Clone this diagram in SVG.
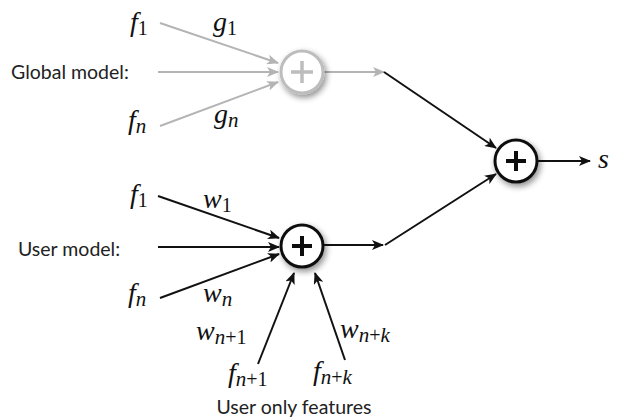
<svg xmlns="http://www.w3.org/2000/svg" width="620" height="418" viewBox="0 0 620 418">
<style>
.lbl{font-family:"Lato","Open Sans",sans-serif;font-size:19.5px;fill:#222}
.m{font-family:"Liberation Serif","DejaVu Serif",serif;font-style:italic;font-size:28px;fill:#111}
.sub{font-size:20px;font-style:normal}
.subi{font-size:21px}
.blk{stroke:#111;stroke-width:2;fill:none}
.gry{stroke:#b4b4b4;stroke-width:2;fill:none}
.circ{fill:#fff;stroke:#111;stroke-width:3}
.circg{fill:#fff;stroke:#bdbdbd;stroke-width:3}
</style>
<defs>
<marker id="ab" viewBox="0 0 12 10" refX="11" refY="5" markerWidth="12" markerHeight="10" markerUnits="userSpaceOnUse" orient="auto">
<path d="M0,0 L12,5 L0,10 L3,5 Z" fill="#111"/>
</marker>
<marker id="ag" viewBox="0 0 12 10" refX="11" refY="5" markerWidth="12" markerHeight="10" markerUnits="userSpaceOnUse" orient="auto">
<path d="M0,0 L12,5 L0,10 L3,5 Z" fill="#b4b4b4"/>
</marker>
<filter id="sh" x="-50%" y="-50%" width="200%" height="200%">
<feGaussianBlur in="SourceAlpha" stdDeviation="3"/>
<feOffset dx="2" dy="3"/>
<feComponentTransfer><feFuncA type="linear" slope="0.45"/></feComponentTransfer>
<feMerge><feMergeNode/><feMergeNode in="SourceGraphic"/></feMerge>
</filter>
</defs>
<rect width="620" height="418" fill="#fff"/>
<g id="connectors">
<line class="gry" x1="160" y1="23" x2="278" y2="63" marker-end="url(#ag)"/>
<line class="gry" x1="158" y1="72" x2="278" y2="72" marker-end="url(#ag)"/>
<line class="gry" x1="160" y1="126" x2="278" y2="82" marker-end="url(#ag)"/>
<line class="gry" x1="324" y1="72" x2="384" y2="72" marker-end="url(#ag)"/>
<polyline class="blk" points="384,72 496,148" marker-end="url(#ab)"/>
<line class="blk" x1="158" y1="196" x2="279" y2="238" marker-end="url(#ab)"/>
<line class="blk" x1="158" y1="247" x2="279" y2="247" marker-end="url(#ab)"/>
<line class="blk" x1="160" y1="298" x2="279" y2="254" marker-end="url(#ab)"/>
<line class="blk" x1="258" y1="364" x2="294" y2="273" marker-end="url(#ab)"/>
<line class="blk" x1="345" y1="360" x2="315" y2="273" marker-end="url(#ab)"/>
<line class="blk" x1="324" y1="245" x2="383" y2="245" marker-end="url(#ab)"/>
<polyline class="blk" points="385,245 496,174" marker-end="url(#ab)"/>
<line class="blk" x1="538" y1="161" x2="590" y2="161" marker-end="url(#ab)"/>
</g>
<g id="global-sum" filter="url(#sh)">
<circle class="circg" cx="302" cy="72" r="21"/>
<path d="M291,72 H313 M302,61 V83" stroke="#bdbdbd" stroke-width="3.5"/>
</g>
<g id="user-sum" filter="url(#sh)">
<circle class="circ" cx="302" cy="246" r="21"/>
<path d="M292,246 H312 M302,236 V256" stroke="#111" stroke-width="4"/>
</g>
<g id="final-sum" filter="url(#sh)">
<circle class="circ" cx="516" cy="161" r="21"/>
<path d="M506,161 H526 M516,151 V171" stroke="#111" stroke-width="4"/>
</g>
<g id="labels">
<text class="lbl" x="11" y="79">Global model:</text>
<text class="lbl" x="18" y="256">User model:</text>
<text class="lbl" x="294" y="414" text-anchor="middle">User only features</text>
<text class="m" x="130" y="31">f<tspan class="sub" dy="4">1</tspan></text>
<text class="m" x="213" y="31">g<tspan class="sub" dy="4">1</tspan></text>
<text class="m" x="128" y="129">f<tspan class="subi" dy="4">n</tspan></text>
<text class="m" x="214" y="123">g<tspan class="subi" dy="4">n</tspan></text>
<text class="m" x="130" y="203">f<tspan class="sub" dy="4">1</tspan></text>
<text class="m" x="203" y="208">w<tspan class="sub" dy="4">1</tspan></text>
<text class="m" x="128" y="302">f<tspan class="subi" dy="4">n</tspan></text>
<text class="m" x="203" y="302">w<tspan class="subi" dy="4">n</tspan></text>
<text class="m" x="196" y="340">w<tspan class="subi" dy="4">n</tspan><tspan class="sub">+1</tspan></text>
<text class="m" x="340" y="338">w<tspan class="subi" dy="4">n</tspan><tspan class="sub">+</tspan><tspan class="subi">k</tspan></text>
<text class="m" x="228" y="382">f<tspan class="subi" dy="4">n</tspan><tspan class="sub">+1</tspan></text>
<text class="m" x="313" y="380">f<tspan class="subi" dy="4">n</tspan><tspan class="sub">+</tspan><tspan class="subi">k</tspan></text>
<text class="m" x="598" y="168">s</text>
</g>
</svg>
